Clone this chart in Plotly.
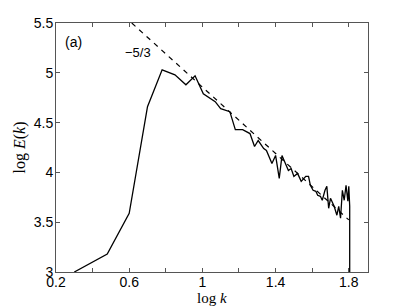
import plotly.graph_objects as go

# Spectrum data (log k, log E(k))
log_k = [0.30, 0.48, 0.60, 0.70, 0.78, 0.85, 0.91, 0.96, 1.005, 1.07, 1.10, 1.15, 1.18, 1.22,
         1.26, 1.285, 1.305, 1.335, 1.35, 1.38, 1.40, 1.42, 1.435, 1.45, 1.47, 1.485, 1.50,
         1.52, 1.54, 1.565, 1.58, 1.59, 1.605, 1.62, 1.63, 1.645, 1.655, 1.67, 1.68, 1.69,
         1.70, 1.71, 1.72, 1.735, 1.745, 1.755, 1.765, 1.775, 1.785, 1.795, 1.80, 1.805, 1.805]
log_E = [3.0, 3.18, 3.59, 4.66, 5.03, 4.98, 4.88, 4.97, 4.79, 4.71, 4.64, 4.61, 4.43, 4.43,
         4.39, 4.26, 4.32, 4.24, 4.22, 4.09, 4.17, 3.94, 4.17, 4.11, 4.02, 4.04, 3.96,
         3.99, 3.91, 3.96, 3.96, 3.87, 3.82, 3.81, 3.77, 3.76, 3.72, 3.82, 3.86, 3.64,
         3.74, 3.70, 3.66, 3.57, 3.66, 3.54, 3.82, 3.72, 3.87, 3.71, 3.86, 3.66, 3.0]

# -5/3 reference line
ref_k = [0.614, 1.80]
ref_E = [5.5, 5.5 - 5.0 / 3.0 * (1.80 - 0.614)]

x_ticks = [0.2, 0.4, 0.6, 0.8, 1.0, 1.2, 1.4, 1.6, 1.8]
x_tick_labels = ["0.2", "", "0.6", "", "1", "", "1.4", "", "1.8"]
y_ticks = [3, 3.5, 4, 4.5, 5, 5.5]
y_tick_labels = ["3", "3.5", "4", "4.5", "5", "5.5"]

fig = go.Figure()
fig.add_trace(go.Scatter(x=ref_k, y=ref_E, mode="lines",
                         line=dict(color="black", width=1.2, dash="5px,5px"),
                         showlegend=False, hoverinfo="skip"))
fig.add_trace(go.Scatter(x=log_k, y=log_E, mode="lines",
                         line=dict(color="black", width=1.3),
                         showlegend=False))

fig.add_annotation(x=0.298, y=5.31, text="(a)", showarrow=False,
                   font=dict(family="Liberation Sans, Arial", size=14, color="black"))
fig.add_annotation(x=0.648, y=5.2, text="\u22125/3", showarrow=False,
                   font=dict(family="Liberation Sans, Arial", size=13, color="black"))
# x-axis title
fig.add_annotation(x=0.5, xref="paper", y=0, yref="paper", yanchor="top", yshift=-16,
                   text="log <i>k</i>", showarrow=False,
                   font=dict(family="Liberation Serif, Times New Roman", size=15, color="black"))

axis_common = dict(showgrid=False, zeroline=False, showline=True, linecolor="#555555",
                   linewidth=1, mirror="allticks", ticks="inside", ticklen=4,
                   tickcolor="#555555", automargin=False,
                   tickfont=dict(family="Liberation Sans, Arial", size=14, color="black"))

fig.update_xaxes(range=[0.2, 1.905], tickvals=x_ticks, ticktext=x_tick_labels,
                 ticklabelstandoff=-3, **axis_common)
fig.update_yaxes(range=[3, 5.5], tickvals=y_ticks, ticktext=y_tick_labels,
                 ticklabelstandoff=-1,
                 title=dict(text="log <i>E</i>(<i>k</i>)", standoff=4,
                            font=dict(family="Liberation Serif, Times New Roman", size=16,
                                      color="black")),
                 **axis_common)

fig.update_layout(width=407, height=307, plot_bgcolor="white", paper_bgcolor="white",
                  margin=dict(l=56, r=39, t=23, b=35))

fig.write_html("out.html", config={"displayModeBar": False},
               post_script="document.body.style.margin='0px';")
